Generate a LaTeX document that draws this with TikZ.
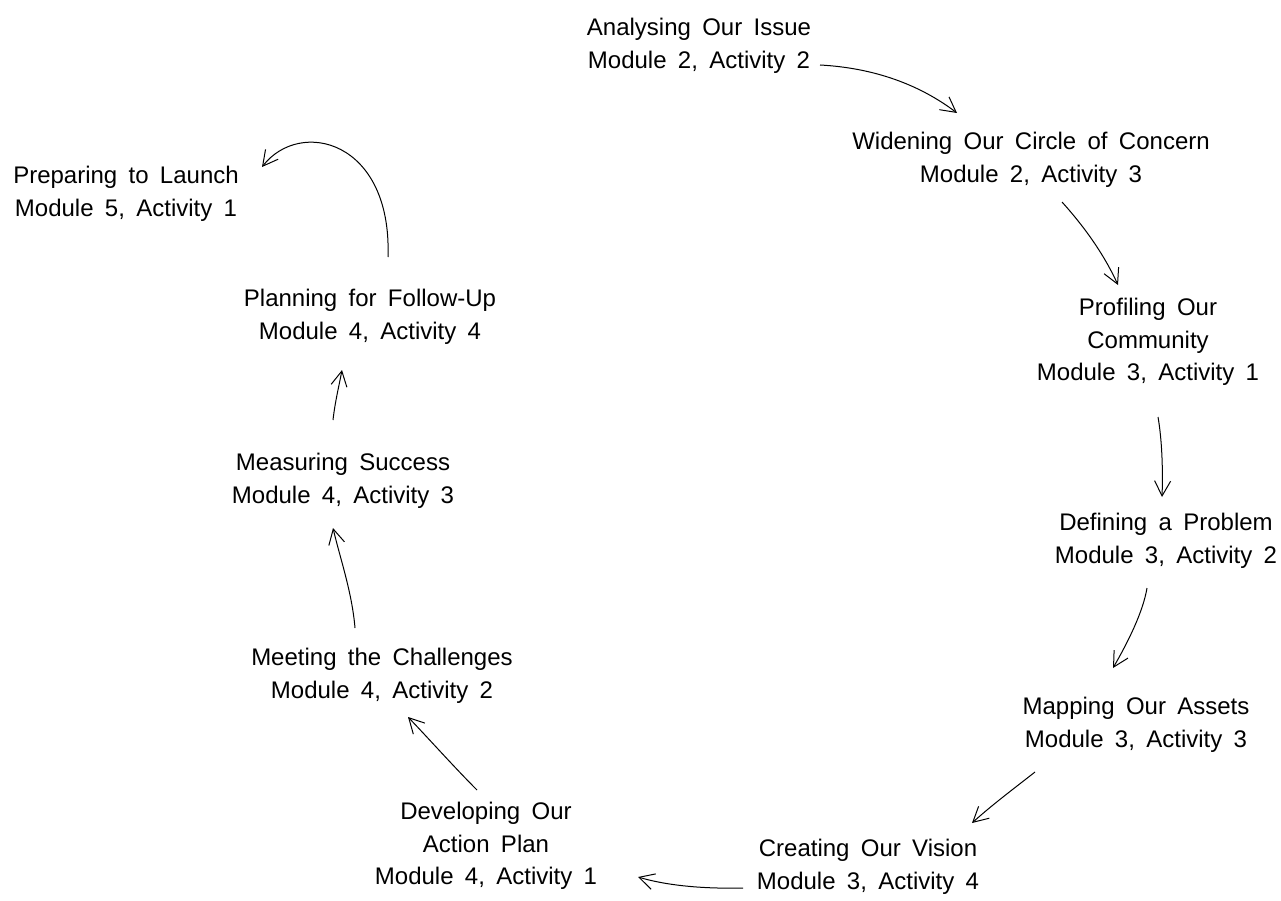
\documentclass[tikz,border=0pt]{standalone}
\usepackage{fontspec}
\setmainfont{Liberation Sans}[WordSpace=1.7]
\usetikzlibrary{arrows.meta}
\begin{document}
\begin{tikzpicture}[x=1pt,y=-1pt,
  lbl/.style={align=center,inner sep=0pt,font=\fontsize{24}{32.5}\selectfont},
  arr/.style={-{Straight Barb[length=15pt,width=16pt]},line width=1pt}]
\useasboundingbox (0,0) rectangle (1281,901);
% labels
\node[lbl] (an) at (699,46)   {Analysing Our Issue\\Module 2, Activity 2};
\node[lbl] (wi) at (1031,160) {Widening Our Circle of Concern\\Module 2, Activity 3};
\node[lbl] (pr) at (1148,342) {Profiling Our\\Community\\Module 3, Activity 1};
\node[lbl] (de) at (1166,541) {Defining a Problem\\Module 3, Activity 2};
\node[lbl] (ma) at (1136,725) {Mapping Our Assets\\Module 3, Activity 3};
\node[lbl] (cr) at (868,867)  {Creating Our Vision\\Module 3, Activity 4};
\node[lbl] (dv) at (486,846)  {Developing Our\\Action Plan\\Module 4, Activity 1};
\node[lbl] (me) at (382,676)  {Meeting the Challenges\\Module 4, Activity 2};
\node[lbl] (mu) at (343,481)  {Measuring Success\\Module 4, Activity 3};
\node[lbl] (pl) at (370,317)  {Planning for Follow-Up\\Module 4, Activity 4};
\node[lbl] (pp) at (126,194)  {Preparing to Launch\\Module 5, Activity 1};
% connector ends
\coordinate (s1) at (820,65);   \coordinate (e1) at (957,113);
\coordinate (s2) at (1062,202); \coordinate (e2) at (1118,285);
\coordinate (s3) at (1158,417); \coordinate (e3) at (1162,497);
\coordinate (s4) at (1147,588); \coordinate (e4) at (1113,668);
\coordinate (s5) at (1035,772); \coordinate (e5) at (972,823);
\coordinate (s6) at (743,888);  \coordinate (e6) at (638,877);
\coordinate (s7) at (477,790);  \coordinate (e7) at (408,717);
\coordinate (s8) at (355,628);  \coordinate (e8) at (333,528);
\coordinate (s9) at (333,420);  \coordinate (e9) at (342,370);
\coordinate (s10) at (388,257); \coordinate (e10) at (262,167);
% connectors
\draw[arr] (s1) .. controls (875,68) and (920,85) .. (e1);
\draw[arr] (s2) .. controls (1080,222) and (1102,250) .. (e2);
\draw[arr] (s3) .. controls (1162,440) and (1163,470) .. (e3);
\draw[arr] (s4) .. controls (1143,612) and (1128,642) .. (e4);
\draw[arr] (s5) .. controls (1012,790) and (992,805) .. (e5);
\draw[arr] (s6) .. controls (700,889) and (665,885) .. (e6);
\draw[arr] (s7) .. controls (455,768) and (430,740) .. (e7);
\draw[arr] (s8) .. controls (352,592) and (340,558) .. (e8);
\draw[arr] (s9) .. controls (335,402) and (339,386) .. (e9);
\draw[arr] (s10) .. controls (392,140) and (300,118) .. (e10);
\end{tikzpicture}
\end{document}
